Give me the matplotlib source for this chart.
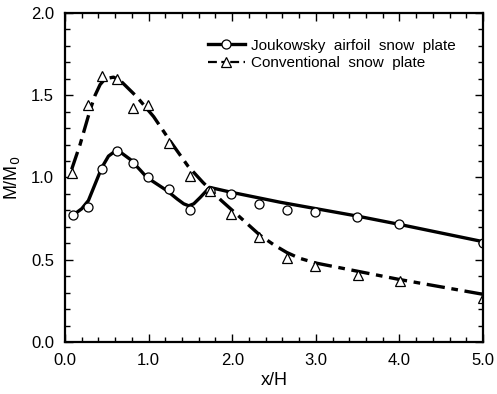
import numpy as np
import matplotlib
matplotlib.use("Agg")
import matplotlib.pyplot as plt
from matplotlib.lines import Line2D
from matplotlib.ticker import MultipleLocator, FormatStrFormatter

# measured points
jouk_x = [0.10, 0.28, 0.44, 0.62, 0.81, 0.99, 1.24, 1.50, 1.73, 1.99, 2.32, 2.66, 2.99, 3.49, 4.00, 5.00]
jouk_y = [0.77, 0.82, 1.05, 1.16, 1.09, 1.00, 0.93, 0.80, 0.92, 0.90, 0.84, 0.80, 0.79, 0.76, 0.72, 0.60]
conv_x = [0.08, 0.27, 0.44, 0.62, 0.81, 0.99, 1.24, 1.50, 1.74, 1.99, 2.32, 2.66, 2.99, 3.50, 4.01, 5.00]
conv_y = [1.03, 1.44, 1.62, 1.60, 1.42, 1.44, 1.21, 1.01, 0.92, 0.78, 0.64, 0.51, 0.46, 0.41, 0.37, 0.27]

# fitted curves as drawn in the figure
jouk_cx = [0.12, 0.20, 0.28, 0.36, 0.44, 0.52, 0.60, 0.66, 0.78, 0.90, 0.98, 1.10, 1.22, 1.34,
           1.42, 1.48, 1.54, 1.62, 1.73, 1.99, 2.57, 3.49, 4.00, 5.00]
jouk_cy = [0.78, 0.81, 0.86, 0.96, 1.06, 1.13, 1.16, 1.155, 1.11, 1.045, 1.00, 0.96, 0.92, 0.87,
           0.84, 0.828, 0.84, 0.88, 0.94, 0.91, 0.85, 0.766, 0.715, 0.61]
conv_cx = [0.08, 0.18, 0.30, 0.36, 0.42, 0.48, 0.58, 0.66, 0.76, 0.86, 1.06, 1.26, 1.47, 1.65,
           1.87, 2.09, 2.33, 2.50, 2.65, 2.80, 3.00, 3.50, 4.00, 5.00]
conv_cy = [1.05, 1.20, 1.41, 1.50, 1.565, 1.60, 1.61, 1.59, 1.54, 1.49, 1.37, 1.22, 1.07, 0.97,
           0.86, 0.76, 0.65, 0.59, 0.545, 0.51, 0.48, 0.43, 0.38, 0.29]

plt.rcParams['font.family'] = ['Liberation Sans', 'DejaVu Sans']

fig = plt.figure(figsize=(4.97, 3.94), dpi=100)
ax = fig.add_axes([0.1308, 0.132, 0.841, 0.835])

dash = (5.5, 2.0, 2.0, 2.0)
ax.plot(jouk_cx, jouk_cy, color='black', lw=2.4, solid_joinstyle='round')
conv_line, = ax.plot(conv_cx, conv_cy, color='black', lw=2.4, dash_capstyle='butt')
conv_line.set_dashes(dash)

ax.plot(jouk_x, jouk_y, ls='none', marker='o', ms=6.5, mfc='white', mec='black', mew=0.9)
ax.plot(conv_x, conv_y, ls='none', marker='^', ms=6.5, mfc='white', mec='black', mew=0.9)

ax.set_xlim(0, 5)
ax.set_ylim(0, 2)
ax.xaxis.set_major_locator(MultipleLocator(1.0))
ax.xaxis.set_minor_locator(MultipleLocator(0.2))
ax.yaxis.set_major_locator(MultipleLocator(0.5))
ax.yaxis.set_minor_locator(MultipleLocator(0.1))
ax.xaxis.set_major_formatter(FormatStrFormatter('%.1f'))
ax.yaxis.set_major_formatter(FormatStrFormatter('%.1f'))
ax.tick_params(which='both', direction='in', top=True, right=True, width=1.0, labelsize=12)
ax.tick_params(which='major', length=6, pad=8)
ax.tick_params(which='minor', length=3.5)
for s in ax.spines.values():
    s.set_linewidth(1.6)

ax.set_xlabel('x/H', fontsize=13, labelpad=3)
ax.set_ylabel('M/M$_0$', fontsize=13, labelpad=6)

h1 = Line2D([], [], color='black', lw=2.4, marker='o', ms=6.5, mfc='white', mec='black', mew=0.9)
h2 = Line2D([], [], color='black', lw=1.6, marker='^', ms=6.5, mfc='white', mec='black', mew=0.9,
            dashes=(4, 2, 2, 2))
ax.legend([h1, h2], ['Joukowsky  airfoil  snow  plate', 'Conventional  snow  plate'],
          loc='upper left', bbox_to_anchor=(0.342, 0.922), frameon=False, fontsize=11,
          handlelength=2.4, handletextpad=0.4, labelspacing=0.22, borderpad=0, borderaxespad=0)

fig.savefig('out.png', dpi=100)
